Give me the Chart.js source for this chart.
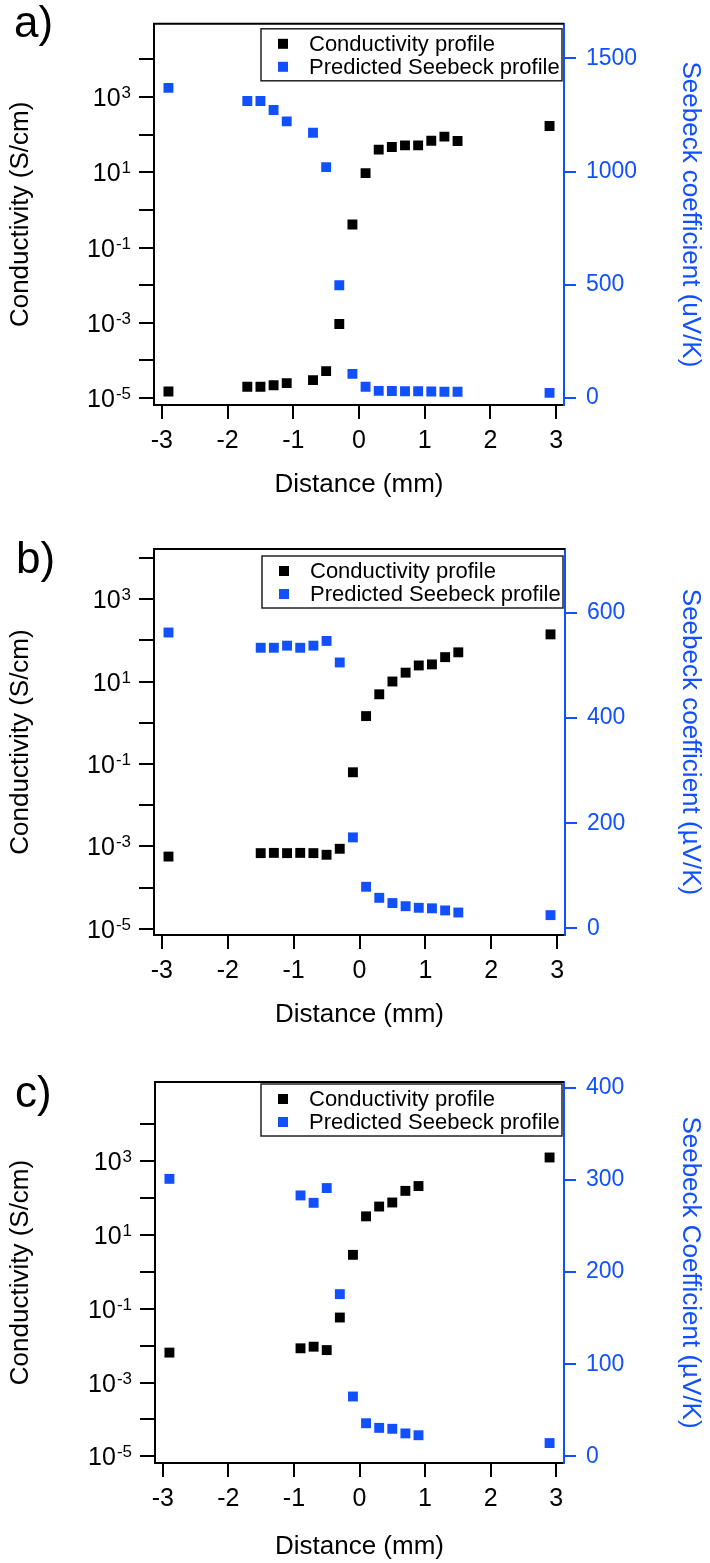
<!DOCTYPE html>
<html>
<head>
<meta charset="utf-8">
<script src="https://cdn.jsdelivr.net/npm/chart.js@4.4.1/dist/chart.umd.min.js"></script>
<style>
  body { margin: 0; background: #fff; }
  #page { position: relative; width: 710px; height: 1563px; overflow: hidden; }
  canvas { position: absolute; left: 0; }
</style>
</head>
<body>
<div id="page">
  <canvas id="chartA"></canvas>
  <canvas id="chartB"></canvas>
  <canvas id="chartC"></canvas>
</div>
<script>
// ---- data ----
// panel a
var distA = [-2.9, -1.7, -1.5, -1.3, -1.1, -0.7, -0.5, -0.3, -0.1, 0.1, 0.3, 0.5, 0.7, 0.9, 1.1, 1.3, 1.5, 2.9];
var condA = [1.5e-5, 2.0e-5, 2.0e-5, 2.2e-5, 2.5e-5, 3.0e-5, 5.2e-5, 9.3e-4, 0.41, 9.5, 40, 47, 52, 52, 69, 89, 68, 170];
var seebA = [1370, 1312, 1312, 1272, 1222, 1172, 1020, 498, 107, 50, 32, 31, 30, 30, 29, 28, 28, 23];
// panel b
var distB = [-2.9, -1.5, -1.3, -1.1, -0.9, -0.7, -0.5, -0.3, -0.1, 0.1, 0.3, 0.5, 0.7, 0.9, 1.1, 1.3, 1.5, 2.9];
var condB = [5.7e-4, 6.9e-4, 7.0e-4, 6.9e-4, 7.0e-4, 6.9e-4, 6.3e-4, 8.8e-4, 0.063, 1.45, 4.9, 10, 16.4, 24.5, 26, 39, 51, 139];
var seebB = [563, 534, 534, 538, 534, 538, 547, 506, 173, 79, 58, 48, 42, 39, 38, 34, 30, 25];
// panel c
var distC = [-2.9, -0.9, -0.7, -0.5, -0.3, -0.1, 0.1, 0.3, 0.5, 0.7, 0.9, 2.9];
var condC = [6.5e-3, 8.5e-3, 9.4e-3, 7.6e-3, 0.058, 2.9, 32, 59, 76, 157, 212, 1260];
var seebC = [301, 283, 275, 291, 176, 65, 36, 31, 30, 25, 23, 14.5];

// ---- tick labels ----
var distTicks = [-3, -2, -1, 0, 1, 2, 3];
var decades = [-5, -4, -3, -2, -1, 0, 1, 2, 3, 4];
var seebTicksA = [0, 500, 1000, 1500];
var seebTicksB = [0, 200, 400, 600];
var seebTicksC = [0, 100, 200, 300, 400];

var BLUE = '#1150ff';
var FONT = "'Liberation Sans', Arial, Helvetica, sans-serif";

// top frame line, 10^n labels, legend box and panel letter
var decorations = {
  id: 'decorations',
  afterDraw: function (chart, args, o) {
    var ctx = chart.ctx, a = chart.chartArea;
    ctx.save();
    ctx.strokeStyle = '#000';
    ctx.lineWidth = 2;
    ctx.beginPath();
    ctx.moveTo(a.left - 1, a.top);
    ctx.lineTo(a.right, a.top);
    ctx.stroke();

    // log axis labels with superscript exponents (odd decades only)
    var yl = chart.scales.yL;
    ctx.fillStyle = '#000';
    ctx.textAlign = 'left';
    ctx.textBaseline = 'alphabetic';
    yl.ticks.forEach(function (t) {
      var e = Math.round(Math.log10(t.value));
      if (Math.abs(e) % 2 !== 1) return;
      var y = yl.getPixelForValue(t.value);
      var exp = String(e);
      ctx.font = '17px ' + FONT;
      var ew = ctx.measureText(exp).width;
      ctx.font = '25px ' + FONT;
      var bw = ctx.measureText('10').width;
      var base = y + 9;
      ctx.fillText('10', o.labelRight - ew - bw - 1, base);
      ctx.font = '17px ' + FONT;
      ctx.fillText(exp, o.labelRight - ew, base - 8);
    });

    // legend
    var w = 301, h = 52;
    var lx = a.right - 2 - w, ly = a.top + o.legendDy;
    ctx.fillStyle = '#fff';
    ctx.fillRect(lx, ly, w, h);
    ctx.strokeStyle = '#222';
    ctx.lineWidth = 1.5;
    ctx.strokeRect(lx, ly, w, h);
    ctx.font = '22px ' + FONT;
    ctx.textBaseline = 'middle';
    chart.data.datasets.forEach(function (ds, i) {
      var cy = ly + 15 + i * 23;
      ctx.fillStyle = ds.backgroundColor;
      ctx.fillRect(lx + 17, cy - 5, 10, 10);
      ctx.fillStyle = '#000';
      ctx.fillText(ds.label, lx + 48, cy + 1);
    });

    // panel letter
    ctx.font = '44px ' + FONT;
    ctx.textBaseline = 'alphabetic';
    ctx.fillStyle = '#000';
    ctx.fillText(o.letter, o.letterX, o.letterY);
    ctx.restore();
  }
};

function makePanel(id, p) {
  var cv = document.getElementById(id);
  cv.width = 710;
  cv.height = p.height;
  cv.style.width = '710px';
  cv.style.height = p.height + 'px';
  cv.style.top = p.top + 'px';

  new Chart(cv, {
    type: 'scatter',
    data: {
      datasets: [
        {
          label: 'Conductivity profile',
          data: p.dist.map(function (x, i) { return { x: x, y: p.cond[i] }; }),
          yAxisID: 'yL',
          backgroundColor: '#000',
          borderWidth: 0,
          pointStyle: 'rect',
          pointRadius: 7
        },
        {
          label: 'Predicted Seebeck profile',
          data: p.dist.map(function (x, i) { return { x: x, y: p.seeb[i] }; }),
          yAxisID: 'yR',
          backgroundColor: BLUE,
          borderWidth: 0,
          pointStyle: 'rect',
          pointRadius: 7
        }
      ]
    },
    options: {
      responsive: false,
      animation: false,
      events: [],
      layout: { padding: { top: p.area.top, left: 0, right: 0, bottom: 0 } },
      plugins: {
        legend: { display: false },
        tooltip: { enabled: false },
        decorations: { legendDy: p.legendDy, letter: p.letter, letterX: p.letterX, letterY: p.letterY,
                       labelRight: p.area.left - 23 }
      },
      scales: {
        x: {
          type: 'linear',
          position: 'bottom',
          min: -3.12,
          max: 3.12,
          afterBuildTicks: function (s) { s.ticks = distTicks.map(function (v) { return { value: v }; }); },
          afterFit: function (s) { s.height = p.height - p.area.bottom; },
          grid: { drawOnChartArea: false, tickLength: 14, color: '#000', lineWidth: 2 },
          border: { color: '#000', width: 2 },
          ticks: { color: '#000', font: { family: FONT, size: 25 }, padding: 7, maxRotation: 0,
                   callback: function (v) { return String(v); } },
          title: { display: true, text: 'Distance (mm)', color: '#000', font: { family: FONT, size: 26 },
                   padding: { top: 0, bottom: p.xTitlePad } }
        },
        yL: {
          type: 'logarithmic',
          position: 'left',
          min: Math.pow(10, p.logMin),
          max: Math.pow(10, p.logMax),
          afterBuildTicks: function (s) { s.ticks = decades.map(function (e) { return { value: Math.pow(10, e) }; }); },
          afterFit: function (s) { s.width = p.area.left; },
          grid: { drawOnChartArea: false, tickLength: 15, color: '#000', lineWidth: 2 },
          border: { color: '#000', width: 2 },
          ticks: { autoSkip: false, callback: function () { return ''; } },
          title: { display: true, text: 'Conductivity (S/cm)', color: '#000', font: { family: FONT, size: 26 },
                   padding: { top: 5, bottom: 0 } }
        },
        yR: {
          type: 'linear',
          position: 'right',
          min: p.seebMin,
          max: p.seebMax,
          afterBuildTicks: function (s) { s.ticks = p.seebTicks.map(function (v) { return { value: v }; }); },
          afterFit: function (s) { s.width = 710 - p.area.right; },
          grid: { drawOnChartArea: false, tickLength: 12, color: BLUE, lineWidth: 2 },
          border: { color: BLUE, width: 2 },
          ticks: { color: BLUE, font: { family: FONT, size: 23 }, padding: 10, autoSkip: false,
                   callback: function (v) { return String(v); } },
          title: { display: true, text: p.seebTitle, color: BLUE, font: { family: FONT, size: 26 },
                   padding: { top: 4.5, bottom: 0 } }
        }
      }
    },
    plugins: [decorations]
  });
}

makePanel('chartA', {
  top: 0, height: 505,
  area: { left: 154, right: 564, top: 20, bottom: 405 },
  dist: distA, cond: condA, seeb: seebA,
  logMin: -5.184, logMax: 4.947,
  seebMin: -30.6, seebMax: 1653, seebTicks: seebTicksA,
  seebTitle: 'Seebeck coefficient (uV/K)',
  xTitlePad: 4.4, legendDy: 5,
  letter: 'a)', letterX: 14, letterY: 37
});

makePanel('chartB', {
  top: 505, height: 530,
  area: { left: 154, right: 565, top: 44, bottom: 430 },
  dist: distB, cond: condB, seeb: seebB,
  logMin: -5.146, logMax: 4.213,
  seebMin: -12.8, seebMax: 722, seebTicks: seebTicksB,
  seebTitle: 'Seebeck coefficient (\u00B5V/K)',
  xTitlePad: 4.4, legendDy: 7,
  letter: 'b)', letterX: 16, letterY: 68
});

makePanel('chartC', {
  top: 1035, height: 528,
  area: { left: 155, right: 564, top: 47, bottom: 428 },
  dist: distC, cond: condC, seeb: seebC,
  logMin: -5.179, logMax: 5.146,
  seebMin: -7.1, seebMax: 406, seebTicks: seebTicksC,
  seebTitle: 'Seebeck Coefficient (\u00B5V/K)',
  xTitlePad: 0.5, legendDy: 2,
  letter: 'c)', letterX: 15, letterY: 72
});
</script>
</body>
</html>
